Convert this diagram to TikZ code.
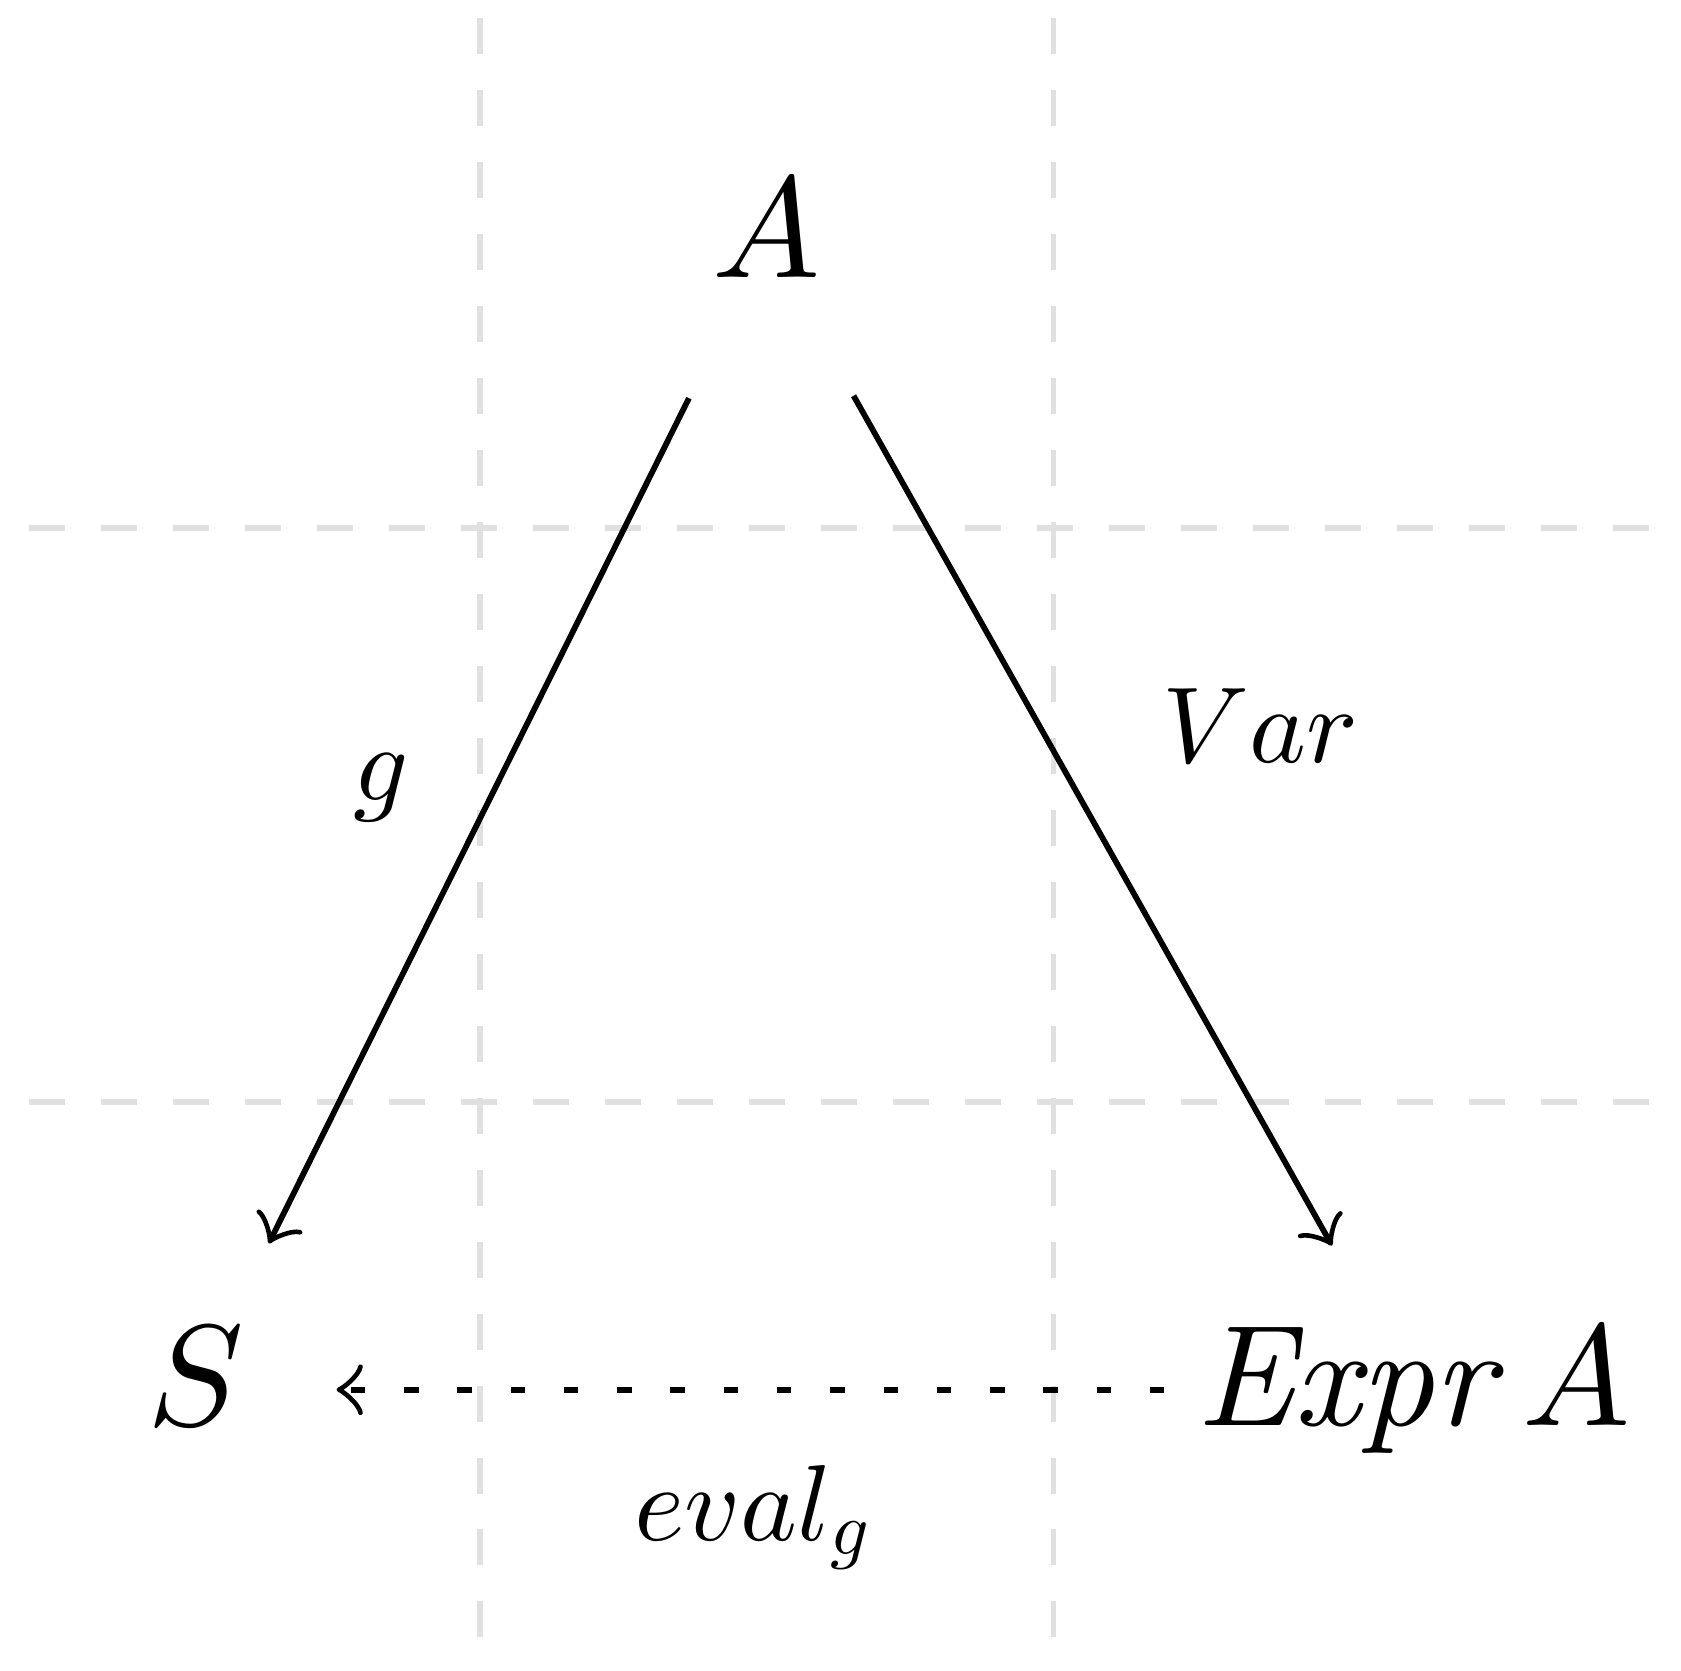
\documentclass[tikz,border=0pt]{standalone}
\usepackage{amsmath}
% one design size for math italic at every size
\DeclareFontShape{OML}{cmm}{m}{it}{<-> cmmi10}{}
\tikzset{
  obj/.style={anchor=base, inner sep=0pt, text height=7pt, text depth=2pt},
  lbl/.style={anchor=base, inner sep=0pt, font=\fontsize{7.5}{9}\selectfont},
  gridline/.style={draw=black!12, line width=0.4pt, dash pattern=on 2.5pt off 2.5pt},
  mor/.style={->, line width=0.4pt, shorten <=6.9pt, shorten >=6.1pt},
  lazymor/.style={->, line width=0.4pt, dash pattern=on 1pt off 2.7pt, shorten <=2pt, shorten >=6.2pt}
}
\begin{document}
\begin{tikzpicture}[x=1.4cm,y=1.4cm]
\useasboundingbox (-0.837,-0.992) rectangle (2.094,1.921);
% help grid
\foreach \g in {0,1} {
  \draw[gridline] (\g,1.89) -- (\g,-0.992);
  \draw[gridline] (-0.786,\g) -- (2.094,\g);
}
% objects
\node[obj] (A) at (0.5,1.437) {$A$};
\node[obj] (S) at (-0.495,-0.565) {$S$};
\node[obj] (E) at (1.627,-0.565) {$\mathit{Expr}\mkern1.5mu A$};
% arrows
\draw[mor] (A) -- (S);
\draw[mor] (A) -- (E);
\draw[lazymor] (E) -- (S);
% labels
\node[lbl] (gLbl) at (-0.173,0.525) {$g$};
\node[lbl] (varLbl) at (1.360,0.591) {$Var$};
\node[lbl] (evalLbl) at (0.48,-0.765) {$eval_g$};
\end{tikzpicture}
\end{document}
